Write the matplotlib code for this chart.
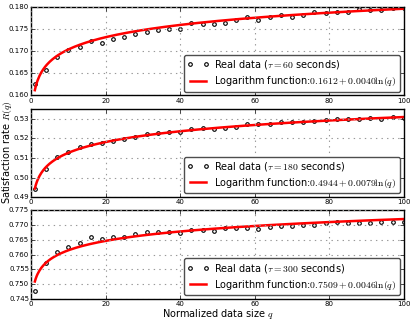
import numpy as np
import matplotlib
matplotlib.use("Agg")
import matplotlib.pyplot as plt

plt.style.use('classic')

# normalized data size
q = [1, 4, 7, 10, 13, 16, 19, 22, 25, 28, 31, 34, 37, 40, 43, 46, 49,
     52, 55, 58, 61, 64, 67, 70, 73, 76, 79, 82, 85, 88, 91, 94, 97, 100]

# tau = 60 s
r60 = [0.1625, 0.1658, 0.1688, 0.1702, 0.1709, 0.1723, 0.1719, 0.1728,
       0.1732, 0.1738, 0.1744, 0.1748, 0.1750, 0.1751, 0.1763, 0.1762,
       0.1762, 0.1765, 0.1770, 0.1777, 0.1771, 0.1778, 0.1782, 0.1778,
       0.1781, 0.1788, 0.1787, 0.1788, 0.1788, 0.1795, 0.1794, 0.1794,
       0.1797, 0.1797]
# tau = 180 s
r180 = [0.4943, 0.5044, 0.5105, 0.5131, 0.5154, 0.5173, 0.5177, 0.5184,
        0.5194, 0.5208, 0.5223, 0.5228, 0.5230, 0.5233, 0.5247, 0.5253,
        0.5245, 0.5254, 0.5259, 0.5272, 0.5270, 0.5272, 0.5285, 0.5285,
        0.5285, 0.5290, 0.5293, 0.5300, 0.5300, 0.5300, 0.5303, 0.5300,
        0.5308, 0.5303]
# tau = 300 s
r300 = [0.7476, 0.7572, 0.7609, 0.7627, 0.7639, 0.7661, 0.7654, 0.7659,
        0.7661, 0.7671, 0.7676, 0.7676, 0.7678, 0.7675, 0.7682, 0.7685,
        0.7681, 0.7690, 0.7690, 0.7692, 0.7687, 0.7693, 0.7698, 0.7698,
        0.7701, 0.7701, 0.7709, 0.7711, 0.7708, 0.7709, 0.7709, 0.7712,
        0.7711, 0.7710]

taus = [60, 180, 300]
fit_a = [0.1612, 0.4944, 0.7509]
fit_b = [0.0040, 0.0079, 0.0046]
fit_txt = ['0.1612', '0.4944', '0.7509']
fit_btxt = ['0.0040', '0.0079', '0.0046']
ylims = [(0.160, 0.180), (0.490, 0.535), (0.745, 0.775)]
ysteps = [0.005, 0.01, 0.005]
yfmt = ['%.3f', '%.2f', '%.3f']
series = [r60, r180, r300]

fig, axes = plt.subplots(3, 1, figsize=(4.15, 3.2), dpi=100, facecolor='white')
fig.subplots_adjust(left=0.075, right=0.973, bottom=0.066, top=0.978, hspace=0.15)

qq = np.linspace(1, 100, 400)
for i, ax in enumerate(axes):
    ax.plot(q, series[i], 'o', ms=2.6, mfc='none', mec='k', mew=0.8,
            label=r'Real data ($\tau=%d$ seconds)' % taus[i])
    ax.plot(qq, fit_a[i] + fit_b[i] * np.log(qq), color='red', lw=1.8,
            label=r'Logarithm function:$%s+%s\ln(q)$' % (fit_txt[i], fit_btxt[i]))
    ax.set_xlim(0, 100)
    ax.set_ylim(*ylims[i])
    ax.set_xticks(np.arange(0, 101, 20))
    ax.set_yticks(np.arange(ylims[i][0], ylims[i][1] + 1e-9, ysteps[i]))
    ax.yaxis.set_major_formatter(matplotlib.ticker.FormatStrFormatter(yfmt[i]))
    ax.tick_params(labelsize=5, length=3, pad=1.5)
    ax.grid(True, color='0.6', linestyle=':', lw=0.8)
    leg = ax.legend(loc='lower right', numpoints=2, fontsize=7, fancybox=True,
                    handlelength=2.2, borderpad=0.35, labelspacing=0.3,
                    handletextpad=0.6, borderaxespad=0.4)
    leg.get_frame().set_edgecolor('0.3')

fig.text(0.016, 0.525, r'Satisfaction rate $R(q)$', fontsize=7, rotation=90,
         ha='center', va='center')
fig.text(0.525, 0.02, r'Normalized data size $q$', fontsize=7,
         ha='center', va='center')

fig.savefig('out.png', dpi=100, facecolor='white')
